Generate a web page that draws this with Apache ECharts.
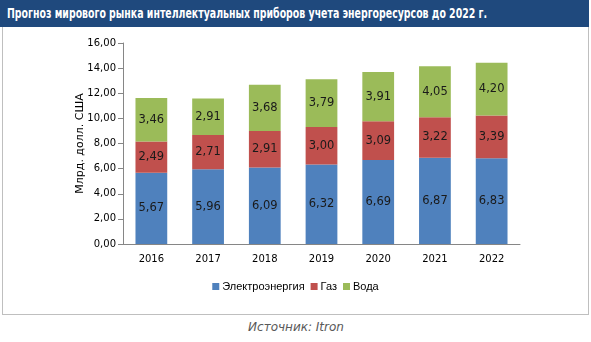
<!DOCTYPE html>
<html><head><meta charset="utf-8">
<script src="https://cdn.jsdelivr.net/npm/echarts@6/dist/echarts.min.js"></script>
<style>
html,body{margin:0;padding:0;background:#fff;}
#wrap{position:relative;width:591px;height:342px;}
#title{position:absolute;left:0;top:0;width:589px;height:27px;background:#1f497d;color:#fff;font-weight:bold;font-size:14px;line-height:27px;padding-left:7px;box-sizing:border-box;white-space:nowrap;overflow:hidden;font-family:"DejaVu Sans Condensed","DejaVu Sans",sans-serif;}
#tt{display:inline-block;transform-origin:0 50%;}
#box{position:absolute;left:2px;top:27px;width:587px;height:288px;border:1px solid #bfbfbf;border-top:none;box-sizing:border-box;}
#chart{position:absolute;left:0;top:27px;width:591px;height:290px;}
#src{position:absolute;left:0;width:592px;top:320px;text-align:center;color:#595959;font-style:italic;font-size:12px;font-family:"DejaVu Sans","Liberation Sans",sans-serif;}
</style></head>
<body><div id="wrap">
<div id="title"><span id="tt">Прогноз мирового рынка интеллектуальных приборов учета энергоресурсов до 2022 г.</span></div>
<div id="box"></div>
<div id="chart"></div>
<div id="src">Источник: Itron</div>
</div>
<script>
(function(){
  const tt = document.getElementById('tt');
  const w = tt.getBoundingClientRect().width;
  tt.style.transform = 'scaleX(' + (480/w).toFixed(4) + ')';
})();
const categories = ['2016','2017','2018','2019','2020','2021','2022'];
const electricity = [5.67,5.96,6.09,6.32,6.69,6.87,6.83];
const gas = [2.49,2.71,2.91,3.00,3.09,3.22,3.39];
const water = [3.46,2.91,3.68,3.79,3.91,4.05,4.20];
const seriesNames = ['Электроэнергия','Газ','Вода'];
const colors = ['#4f81bd','#c0504d','#9bbb59'];
const fmt = v => v.toFixed(2).replace('.', ',');
const chart = echarts.init(document.getElementById('chart'));
const mk = (name, data, color) => ({
  name, type:'bar', stack:'total', data, barWidth:'56%',
  itemStyle:{color},
  label:{show:true, position:'inside', color:'#1a1a1a', fontSize:11.5, formatter:p=>fmt(p.value), fontFamily:'DejaVu Sans'}
});
chart.setOption({
  animation:false,
  grid:{left:123, right:71, top:16, bottom:73},
  legend:{top:249, left:'center', itemWidth:7, itemHeight:7, itemGap:6, icon:'rect',
    textStyle:{fontSize:11, color:'#000', fontFamily:'Liberation Sans', padding:[0,0,0,-2]}},
  xAxis:{type:'category', data:categories,
    axisLine:{lineStyle:{color:'#868686'}}, axisTick:{show:false},
    axisLabel:{color:'#000', fontSize:10, margin:10, fontFamily:'DejaVu Sans'}},
  yAxis:{type:'value', min:0, max:16, interval:2,
    name:'Млрд. долл. США', nameLocation:'middle', nameGap:37, nameRotate:90, nameMoveOverlap:false,
    nameTextStyle:{color:'#000', fontSize:11, fontFamily:'DejaVu Sans'},
    axisLine:{show:true, lineStyle:{color:'#868686'}},
    axisTick:{show:true, inside:false, length:5, lineStyle:{color:'#868686'}},
    splitLine:{show:false},
    axisLabel:{color:'#000', fontSize:10, margin:7, formatter:v=>fmt(v), fontFamily:'DejaVu Sans'}},
  series:[mk(seriesNames[0], electricity, colors[0]), mk(seriesNames[1], gas, colors[1]), mk(seriesNames[2], water, colors[2])]
});
</script></body></html>
